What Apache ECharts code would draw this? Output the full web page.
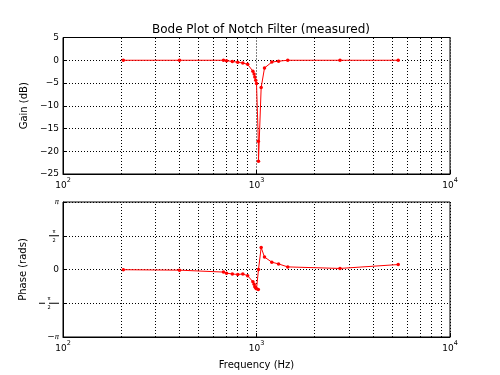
<!DOCTYPE html>
<html><head><meta charset="utf-8">
<script src="https://cdn.jsdelivr.net/npm/echarts@6/dist/echarts.min.js"></script>
<style>html,body{margin:0;padding:0;background:#fff}#c{width:500px;height:375px}</style>
</head><body><div id="c"></div>
<script>
const freqHz   = [205, 400, 675, 700, 750, 800, 850, 900, 958, 972, 980, 991, 1000, 1022, 1024, 1057, 1100, 1200, 1300, 1450, 2700, 5400];
const gainDb   = [0, 0, 0, -0.1, -0.25, -0.45, -0.6, -0.9, -2.4, -3.0, -3.7, -4.4, -5.1, -17.8, -22.2, -6.0, -1.7, -0.4, -0.2, 0, 0, 0];
const phaseRad = [-0.01, -0.03, -0.12, -0.17, -0.21, -0.23, -0.21, -0.29, -0.57, -0.69, -0.80, -0.86, -0.90, -0.93, 0, 1.02, 0.58, 0.34, 0.26, 0.12, 0.05, 0.23];
const minorGrid = [200, 300, 400, 500, 600, 700, 800, 900, 2000, 3000, 4000, 5000, 6000, 7000, 8000, 9000];
const gainTicks = { min: -25, max: 5, step: 5 };

const FONT = 'DejaVu Sans';
const chart = echarts.init(document.getElementById('c'), null, { renderer: 'canvas' });

const gridLine = { show: true, lineStyle: { color: '#000', type: [1, 2], width: 1 } };

function xLabel(v) {
  const e = Math.round(Math.log10(v));
  return '{b|10}{sup|' + e + '}';
}
const xRich = {
  b: { fontSize: 9, lineHeight: 13, verticalAlign: 'bottom', fontFamily: FONT, color: '#000' },
  sup: { fontSize: 6.5, lineHeight: 7, verticalAlign: 'top', fontFamily: FONT, color: '#000' }
};

function phaseLabel(v) {
  const k = Math.round(v / (Math.PI / 2));
  if (k === 2) return '{s|π}';
  if (k === 1) return '{n|π}\n{bar| }\n{n|2}';
  if (k === 0) return '{z|0}';
  if (k === -1) return '{n|π}\n{m| }{gap| }{bar| }\n{n|2}';
  return '{z|−}{s|π}';
}
const pRich = {
  s: { fontSize: 7, fontStyle: 'italic', fontFamily: FONT, color: '#000' },
  z: { fontSize: 9, fontFamily: FONT, color: '#000' },
  n: { fontSize: 5, lineHeight: 6, width: 10, align: 'center', fontFamily: FONT, color: '#000' },
  bar: { fontSize: 1, lineHeight: 3, width: 10, height: 1, backgroundColor: '#000' },
  m: { fontSize: 1, lineHeight: 3, width: 6, height: 1, backgroundColor: '#000' },
  gap: { fontSize: 1, lineHeight: 3, width: 4, height: 1 }
};

function xAxisDef(idx, showName) {
  return {
    type: 'log', logBase: 10, min: 100, max: 10000, gridIndex: idx,
    axisLine: { show: true, onZero: false, lineStyle: { color: '#000', width: 1 } },
    axisTick: { show: true, inside: true, length: 4, lineStyle: { color: '#000' } },
    splitLine: gridLine,
    axisLabel: { formatter: xLabel, rich: xRich, margin: 3, color: '#000' },
    name: showName ? 'Frequency (Hz)' : '',
    nameLocation: 'middle', nameGap: 23,
    nameTextStyle: { fontSize: 10, fontFamily: FONT, color: '#000' }
  };
}

const minorMark = {
  silent: true, symbol: ['none', 'none'], animation: false, z: 1,
  label: { show: false },
  lineStyle: { color: '#000', type: [1, 2], width: 1 },
  emphasis: { disabled: true },
  data: minorGrid.map(v => ({ xAxis: v }))
};

const lineStyle = { color: '#ff0000', width: 1 };

const option = {
  animation: false,
  backgroundColor: '#fff',
  title: {
    text: 'Bode Plot of Notch Filter (measured)',
    left: 256, top: 19, textAlign: 'center',
    textStyle: { fontSize: 12, fontWeight: 'normal', color: '#000', fontFamily: FONT }
  },
  grid: [
    { left: 63, right: 50, top: 37.5, height: 136.5, show: true, borderColor: '#000', borderWidth: 1 },
    { left: 63, right: 50, top: 202, height: 135, show: true, borderColor: '#000', borderWidth: 1 }
  ],
  xAxis: [xAxisDef(0, false), xAxisDef(1, true)],
  yAxis: [
    {
      type: 'value', gridIndex: 0, min: gainTicks.min, max: gainTicks.max, interval: gainTicks.step,
      axisLine: { show: true, lineStyle: { color: '#000' } },
      axisTick: { show: true, inside: true, length: 4, lineStyle: { color: '#000' } },
      splitLine: gridLine,
      axisLabel: { fontSize: 9, fontFamily: FONT, color: '#000', margin: 4,
        formatter: v => String(v).replace('-', '−') },
      name: 'Gain (dB)', nameLocation: 'middle', nameGap: 33,
      nameTextStyle: { fontSize: 10, fontFamily: FONT, color: '#000' }
    },
    {
      type: 'value', gridIndex: 1, min: -Math.PI, max: Math.PI, interval: Math.PI / 2,
      axisLine: { show: true, lineStyle: { color: '#000' } },
      axisTick: { show: true, inside: true, length: 4, lineStyle: { color: '#000' } },
      splitLine: gridLine,
      axisLabel: { formatter: phaseLabel, rich: pRich, margin: 4, color: '#000' },
      name: 'Phase (rads)', nameLocation: 'middle', nameGap: 33,
      nameTextStyle: { fontSize: 10, fontFamily: FONT, color: '#000' }
    }
  ],
  series: [
    { type: 'line', xAxisIndex: 0, yAxisIndex: 0, data: [], markLine: minorMark, z: 1 },
    { type: 'line', xAxisIndex: 1, yAxisIndex: 1, data: [], markLine: minorMark, z: 1 },
    {
      type: 'line', xAxisIndex: 0, yAxisIndex: 0, z: 5,
      data: freqHz.map((f, i) => [f, gainDb[i]]),
      symbol: 'circle', symbolSize: 3.5, showAllSymbol: true,
      lineStyle: lineStyle, itemStyle: { color: '#ff0000' },
      emphasis: { disabled: true }
    },
    {
      type: 'line', xAxisIndex: 1, yAxisIndex: 1, z: 5,
      data: freqHz.map((f, i) => [f, phaseRad[i]]),
      symbol: 'circle', symbolSize: 3.5, showAllSymbol: true,
      lineStyle: lineStyle, itemStyle: { color: '#ff0000' },
      emphasis: { disabled: true }
    }
  ]
};
chart.setOption(option);
</script>
</body></html>
